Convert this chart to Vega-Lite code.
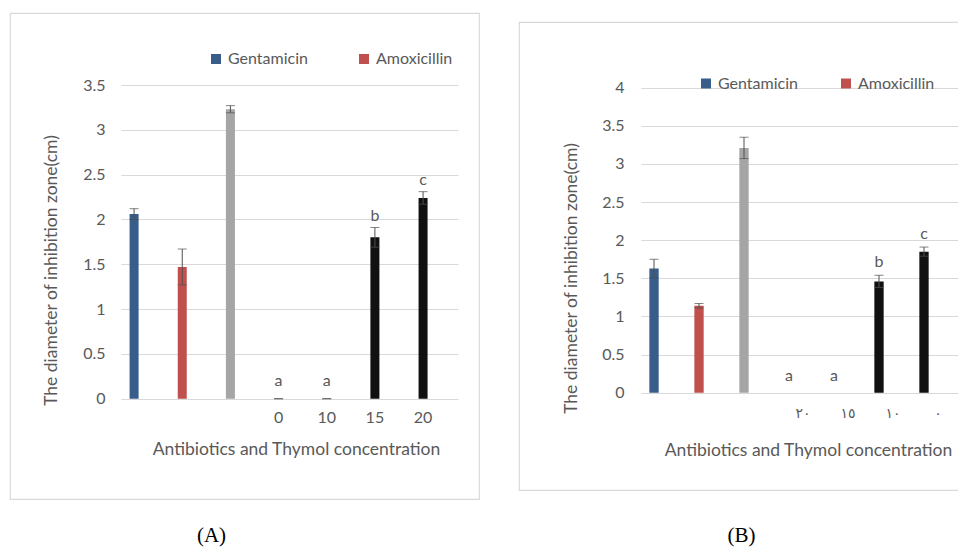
{
  "$schema": "https://vega.github.io/schema/vega-lite/v6.json",
  "background": "white",
  "padding": {"left": 9, "top": 12, "right": 0, "bottom": 0},
  "config": {
    "view": {"stroke": "#d9d9d9", "strokeWidth": 1.2, "fill": "white"},
    "font": "Lato",
    "axis": {"labelColor": "#595959", "titleColor": "#595959", "labelFont": "Lato", "titleFont": "Lato", "titleFontWeight": "normal", "domain": false, "ticks": false},
    "legend": {"orient": "none", "direction": "horizontal", "symbolType": "square", "symbolSize": 100, "symbolStrokeWidth": 0, "labelFontSize": 16, "labelColor": "#595959", "labelFont": "Lato", "labelOffset": 4, "padding": 0}
  },
  "datasets": {
    "a": [
      {"item": "Gentamicin", "series": "Gentamicin", "mean": 2.06, "lo": 2.0, "hi": 2.12, "letter": ""},
      {"item": "Amoxicillin", "series": "Amoxicillin", "mean": 1.47, "lo": 1.27, "hi": 1.67, "letter": ""},
      {"item": "Control", "series": "Control", "mean": 3.23, "lo": 3.19, "hi": 3.27, "letter": ""},
      {"item": "0", "series": "Thymol", "mean": 0, "lo": 0, "hi": 0, "letter": "a"},
      {"item": "10", "series": "Thymol", "mean": 0, "lo": 0, "hi": 0, "letter": "a"},
      {"item": "15", "series": "Thymol", "mean": 1.8, "lo": 1.69, "hi": 1.91, "letter": "b"},
      {"item": "20", "series": "Thymol", "mean": 2.24, "lo": 2.17, "hi": 2.31, "letter": "c"}
    ],
    "b": [
      {"item": "Gentamicin", "series": "Gentamicin", "mean": 1.63, "lo": 1.51, "hi": 1.75, "letter": ""},
      {"item": "Amoxicillin", "series": "Amoxicillin", "mean": 1.14, "lo": 1.11, "hi": 1.17, "letter": ""},
      {"item": "Control", "series": "Control", "mean": 3.21, "lo": 3.07, "hi": 3.35, "letter": ""},
      {"item": "٢٠", "series": "Thymol", "mean": 0, "lo": 0, "hi": 0, "letter": "a"},
      {"item": "١٥", "series": "Thymol", "mean": 0, "lo": 0, "hi": 0, "letter": "a"},
      {"item": "١٠", "series": "Thymol", "mean": 1.46, "lo": 1.38, "hi": 1.54, "letter": "b"},
      {"item": "٠", "series": "Thymol", "mean": 1.85, "lo": 1.79, "hi": 1.91, "letter": "c"}
    ]
  },
  "spacing": 40,
  "bounds": "flush",
  "center": true,
  "resolve": {"scale": {"color": "independent", "x": "independent", "y": "independent"}, "legend": {"color": "independent"}},
  "hconcat": [
    {
      "width": 469,
      "height": 486,
      "data": {"name": "a"},
      "title": {"text": "(A)", "orient": "bottom", "anchor": "middle", "frame": "group", "dx": -33, "offset": 26, "font": "Liberation Serif", "fontSize": 21, "fontWeight": "normal", "color": "#000000"},
      "encoding": {
        "x": {
          "field": "item", "type": "nominal", "sort": null,
          "scale": {"range": [111, 448], "paddingInner": 0.813, "paddingOuter": 0.405, "align": 0.22},
          "axis": {"title": "Antibiotics and Thymol concentration", "offset": -100.3, "labelAngle": 0, "labelPadding": 11, "labelFontSize": 16, "labelExpr": "indexof(['Gentamicin','Amoxicillin','Control'], datum.value) < 0 ? datum.label : ''", "titleFontSize": 17.5, "titleX": 286, "titleY": 51, "titleBaseline": "middle"}
        }
      },
      "layer": [
        {
          "mark": {"type": "bar"},
          "encoding": {
            "y": {"field": "mean", "type": "quantitative", "title": "The diameter of inhibition zone(cm)", "scale": {"domain": [0, 3.5], "nice": false, "range": [385.7, 72]},
              "axis": {"values": [0, 0.5, 1, 1.5, 2, 2.5, 3, 3.5], "tickCount": 20, "offset": -111, "format": "~g", "labelOverlap": false, "grid": true, "gridColor": "#d9d9d9", "labelPadding": 16, "labelFontSize": 16, "titleFontSize": 17.5, "titleX": -70, "titleY": 257, "titleBaseline": "middle"}},
            "color": {"field": "series", "type": "nominal",
              "scale": {"domain": ["Gentamicin", "Amoxicillin", "Control", "Thymol"], "range": ["#385d8a", "#c0504d", "#a5a5a5", "#111111"]},
              "legend": {"title": null, "values": ["Gentamicin", "Amoxicillin"], "legendX": 198, "legendY": 38, "columnPadding": 48}}
          }
        },
        {
          "mark": {"type": "errorbar", "color": "#505050", "ticks": {"size": 9}},
          "encoding": {
            "y": {"field": "lo", "type": "quantitative", "title": "The diameter of inhibition zone(cm)"},
            "y2": {"field": "hi"}
          }
        },
        {
          "transform": [{"filter": "datum.hi > 0 && datum.letter != ''"}],
          "mark": {"type": "text", "baseline": "alphabetic", "dy": -7, "fontSize": 16, "color": "#595959"},
          "encoding": {
            "y": {"field": "hi", "type": "quantitative", "title": "The diameter of inhibition zone(cm)"},
            "text": {"field": "letter"}
          }
        },
        {
          "transform": [{"filter": "datum.hi == 0 && datum.letter != ''"}],
          "mark": {"type": "text", "baseline": "alphabetic", "dy": -13, "fontSize": 16, "color": "#595959"},
          "encoding": {
            "y": {"field": "hi", "type": "quantitative", "title": "The diameter of inhibition zone(cm)"},
            "text": {"field": "letter"}
          }
        }
      ]
    },
    {
      "width": 445,
      "height": 468,
      "data": {"name": "b"},
      "title": {"text": "(B)", "orient": "bottom", "anchor": "middle", "frame": "group", "dx": 0, "offset": 35, "font": "Liberation Serif", "fontSize": 21, "fontWeight": "normal", "color": "#000000"},
      "encoding": {
        "x": {
          "field": "item", "type": "nominal", "sort": null,
          "scale": {"range": [122, 440], "paddingInner": 0.793, "paddingOuter": 0.43, "align": 0.216},
          "axis": {"title": "Antibiotics and Thymol concentration", "offset": -97.3, "labelAngle": 0, "labelPadding": 14, "labelFontSize": 14, "labelOffset": 14, "labelFont": "DejaVu Sans", "labelExpr": "indexof(['Gentamicin','Amoxicillin','Control'], datum.value) < 0 ? datum.label : ''", "titleFontSize": 17.5, "titleX": 289, "titleY": 58, "titleBaseline": "middle"}
        }
      },
      "layer": [
        {
          "mark": {"type": "bar"},
          "encoding": {
            "y": {"field": "mean", "type": "quantitative", "title": "The diameter of inhibition zone(cm)", "scale": {"domain": [0, 4], "nice": false, "range": [370.7, 65.7]},
              "axis": {"values": [0, 0.5, 1, 1.5, 2, 2.5, 3, 3.5, 4], "tickCount": 20, "offset": -122, "format": "~g", "labelOverlap": false, "grid": true, "gridColor": "#d9d9d9", "labelPadding": 17, "labelFontSize": 16, "titleFontSize": 17.5, "titleX": -70, "titleY": 256, "titleBaseline": "middle"}},
            "color": {"field": "series", "type": "nominal",
              "scale": {"domain": ["Gentamicin", "Amoxicillin", "Control", "Thymol"], "range": ["#385d8a", "#c0504d", "#a5a5a5", "#111111"]},
              "legend": {"title": null, "values": ["Gentamicin", "Amoxicillin"], "legendX": 179, "legendY": 53.5, "columnPadding": 40}}
          }
        },
        {
          "transform": [{"filter": "datum.hi > 0"}],
          "mark": {"type": "errorbar", "color": "#505050", "ticks": {"size": 9}},
          "encoding": {
            "y": {"field": "lo", "type": "quantitative", "title": "The diameter of inhibition zone(cm)"},
            "y2": {"field": "hi"}
          }
        },
        {
          "transform": [{"filter": "datum.hi > 0 && datum.letter != ''"}],
          "mark": {"type": "text", "baseline": "alphabetic", "dy": -8.5, "fontSize": 16, "color": "#595959"},
          "encoding": {
            "y": {"field": "hi", "type": "quantitative", "title": "The diameter of inhibition zone(cm)"},
            "text": {"field": "letter"}
          }
        },
        {
          "transform": [{"filter": "datum.hi == 0 && datum.letter != ''"}],
          "mark": {"type": "text", "baseline": "alphabetic", "dy": -12, "fontSize": 16, "color": "#595959"},
          "encoding": {
            "y": {"field": "hi", "type": "quantitative", "title": "The diameter of inhibition zone(cm)"},
            "text": {"field": "letter"}
          }
        }
      ]
    }
  ]
}
